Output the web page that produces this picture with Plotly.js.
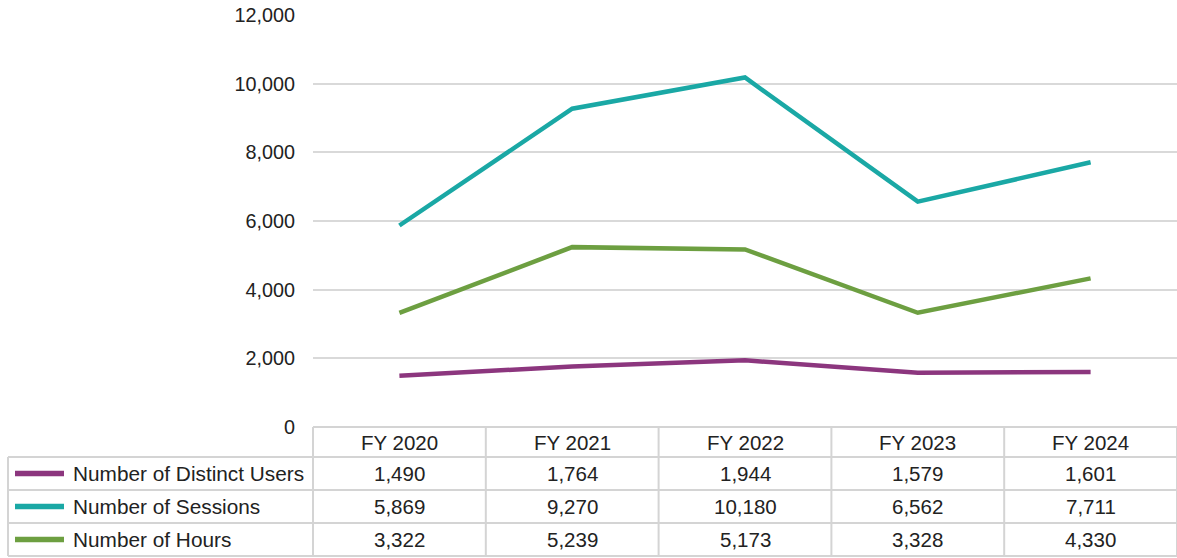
<!DOCTYPE html>
<html>
<head>
<meta charset="utf-8">
<script src="https://cdn.plot.ly/plotly-3.0.1.min.js"></script>
<style>html,body{margin:0;padding:0;background:#fff;}#chart{width:1177px;height:558px;}</style>
</head>
<body>
<div id="chart"></div>
<script>
// ---- data ----
const categories = ["FY 2020", "FY 2021", "FY 2022", "FY 2023", "FY 2024"];
const seriesNames = ["Number of Distinct Users", "Number of Sessions", "Number of Hours"];
const distinctUsers = [1490, 1764, 1944, 1579, 1601];
const sessions = [5869, 9270, 10180, 6562, 7711];
const hours = [3322, 5239, 5173, 3328, 4330];
const yTickValues = [0, 2000, 4000, 6000, 8000, 10000, 12000];

// ---- styles / layout ----
const seriesValues = [distinctUsers, sessions, hours];
const colors = ["#8C367E", "#1AA8A5", "#6D9F41"];
const W = 1177, H = 558, L = 313, T = 15, PW = 864, PH = 412;
const FONT = "Liberation Sans, Arial, sans-serif";
const TXT = "#222222";
const BORDER = "#d4d4d4";
function px(x){ return (x - L) / PW; }
function py(y){ return (T + PH - y) / PH; }
const fmt = v => v.toLocaleString("en-US");

const traces = seriesValues.map((vals, i) => ({
  type: "scatter", mode: "lines", x: categories, y: vals, name: seriesNames[i],
  line: {color: colors[i], width: 4.5}, hoverinfo: "x+y+name", cliponaxis: false
}));

// table geometry
const tableLeft = 8, tableRight = 1177;
const headerTop = 427, rowTops = [457, 490, 523], rowH = 33, tableBottom = 556;
const colW = PW / categories.length;

const shapes = [];
const annotations = [];
function hline(x0, x1, y){ shapes.push({type:"line", xref:"paper", yref:"paper", x0:px(x0), x1:px(x1), y0:py(y), y1:py(y), line:{color:BORDER, width:2}}); }
function vline(x, y0, y1){ shapes.push({type:"line", xref:"paper", yref:"paper", x0:px(x), x1:px(x), y0:py(y0), y1:py(y1), line:{color:BORDER, width:2}}); }

hline(L, tableRight, headerTop);
rowTops.forEach(y => hline(tableLeft, tableRight, y));
hline(tableLeft, tableRight, tableBottom);
vline(tableLeft, rowTops[0], tableBottom);
for (let c = 0; c <= categories.length; c++) {
  vline(L + c * colW, headerTop, tableBottom);
}

categories.forEach((cat, c) => {
  annotations.push({xref:"paper", yref:"paper", x:px(L + (c + 0.5) * colW), y:py(headerTop + 15),
    text:cat, showarrow:false, xanchor:"center", yanchor:"middle", font:{family:FONT, size:20.5, color:TXT}});
});
seriesNames.forEach((name, r) => {
  const cy = rowTops[r] + rowH / 2;
  shapes.push({type:"line", xref:"paper", yref:"paper", x0:px(15), x1:px(64), y0:py(cy), y1:py(cy),
    line:{color:colors[r], width:5.5}});
  annotations.push({xref:"paper", yref:"paper", x:px(71), y:py(cy), text:name, showarrow:false,
    xanchor:"left", yanchor:"middle", font:{family:FONT, size:20.8, color:TXT}});
  seriesValues[r].forEach((v, c) => {
    annotations.push({xref:"paper", yref:"paper", x:px(L + (c + 0.5) * colW), y:py(cy), text:fmt(v),
      showarrow:false, xanchor:"center", yanchor:"middle", font:{family:FONT, size:20.5, color:TXT}});
  });
});

const layout = {
  width: W, height: H,
  margin: {l: L, r: 0, t: T, b: H - T - PH, pad: 0},
  paper_bgcolor: "#ffffff", plot_bgcolor: "#ffffff",
  showlegend: false,
  font: {family: FONT, color: TXT},
  xaxis: {type: "category", range: [-0.5, 4.5], showgrid: false, zeroline: false, showline: false,
          showticklabels: false, ticks: "", fixedrange: true},
  yaxis: {range: [0, 12000], tickvals: yTickValues, ticktext: yTickValues.map(fmt),
          showgrid: true, gridcolor: "#d9d9d9", gridwidth: 2, zeroline: false, showline: false,
          ticks: "", ticklabelstandoff: 17, tickfont: {family: FONT, size: 19.8, color: TXT}, fixedrange: true},
  shapes: shapes,
  annotations: annotations
};

Plotly.newPlot("chart", traces, layout, {displayModeBar: false, staticPlot: true});
</script>
</body>
</html>
